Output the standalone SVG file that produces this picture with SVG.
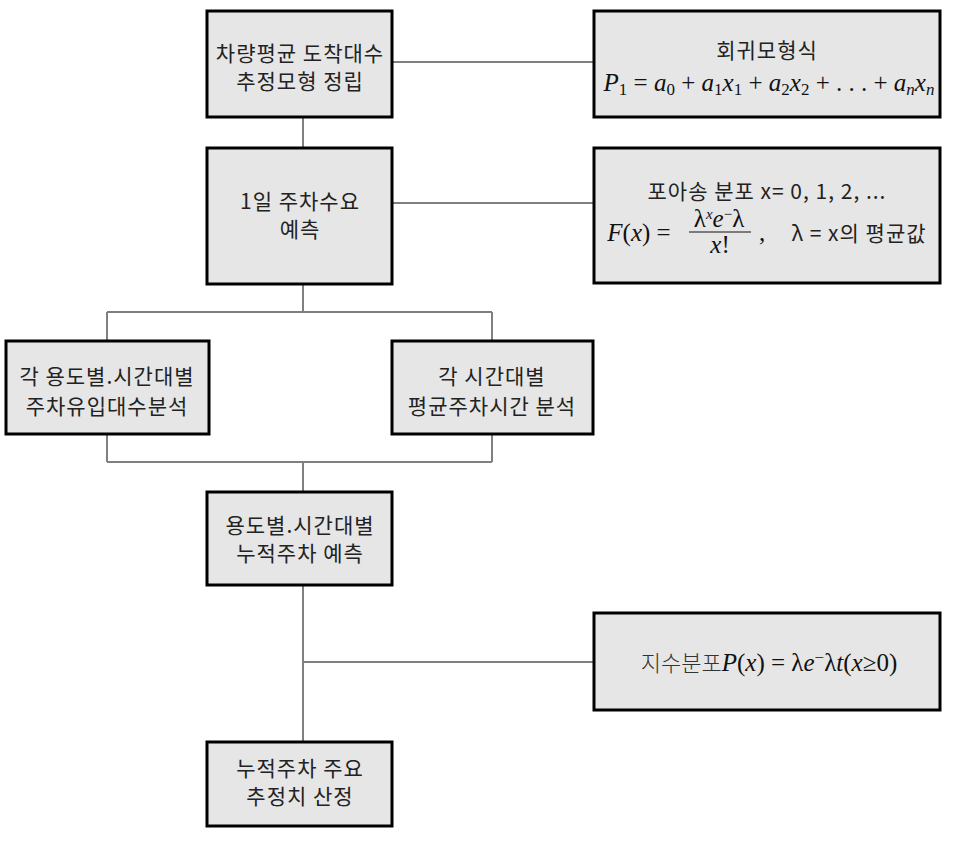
<svg xmlns="http://www.w3.org/2000/svg" width="954" height="850" viewBox="0 0 954 850">
<style>
.box{fill:#e6e6e6;stroke:#000;stroke-width:3}
.kr{font-family:"Noto Sans CJK KR","Noto Sans",sans-serif;font-size:21px;letter-spacing:1px;fill:#222;text-anchor:middle}
.m{font-family:"Liberation Serif",serif;font-size:25px;fill:#111;text-anchor:middle}
.i{font-style:italic}
.v{stroke:#808080;stroke-width:2;fill:none}
.h{stroke:#000;stroke-width:1.2;fill:none}
</style>
<rect width="954" height="850" fill="#fff"/>
<g id="connectors">
<line class="h" x1="392" y1="62" x2="594" y2="62"/>
<line class="h" x1="392" y1="203" x2="594" y2="203"/>
<line class="h" x1="107" y1="312" x2="492" y2="312"/>
<line class="h" x1="107" y1="462" x2="492" y2="462"/>
<line class="h" x1="303" y1="662" x2="594" y2="662"/>
<line class="v" x1="303" y1="118" x2="303" y2="147"/>
<line class="v" x1="303" y1="285" x2="303" y2="312"/>
<line class="v" x1="107" y1="312" x2="107" y2="340"/>
<line class="v" x1="492" y1="312" x2="492" y2="340"/>
<line class="v" x1="107" y1="435" x2="107" y2="462"/>
<line class="v" x1="492" y1="435" x2="492" y2="462"/>
<line class="v" x1="303" y1="462" x2="303" y2="491"/>
<line class="v" x1="303" y1="586" x2="303" y2="741"/>
</g>
<g id="n1">
<rect class="box" x="207" y="11" width="185" height="106"/>
<text class="kr" x="300" y="61">차량평균 도착대수</text>
<text class="kr" x="300" y="89">추정모형 정립</text>
</g>
<g id="r1">
<rect class="box" x="594" y="11" width="346" height="106"/>
<text class="kr" x="767" y="58">회귀모형식</text>
<text class="m" x="769" y="91"><tspan class="i">P</tspan><tspan font-size="17" dy="4">1</tspan><tspan dy="-4"> = </tspan><tspan class="i">a</tspan><tspan font-size="17" dy="4">0</tspan><tspan dy="-4"> + </tspan><tspan class="i">a</tspan><tspan font-size="17" dy="4">1</tspan><tspan class="i" dy="-4">x</tspan><tspan font-size="17" dy="4">1</tspan><tspan dy="-4"> + </tspan><tspan class="i">a</tspan><tspan font-size="17" dy="4">2</tspan><tspan class="i" dy="-4">x</tspan><tspan font-size="17" dy="4">2</tspan><tspan dy="-4"> + . . . + </tspan><tspan class="i">a</tspan><tspan class="i" font-size="17" dy="4">n</tspan><tspan class="i" dy="-4">x</tspan><tspan class="i" font-size="17" dy="4">n</tspan></text>
</g>
<g id="n2">
<rect class="box" x="207" y="148" width="185" height="136"/>
<text class="kr" x="300" y="209">1일 주차수요</text>
<text class="kr" x="300" y="237">예측</text>
</g>
<g id="r2">
<rect class="box" x="594" y="148" width="346" height="135"/>
<text class="kr" x="767" y="199">포아송 분포 x= 0, 1, 2, ...</text>
<text class="m" x="639" y="241" font-size="26"><tspan class="i">F</tspan>(<tspan class="i">x</tspan>) =</text>
<text class="m" x="719" y="227" font-size="22">λ<tspan class="i" font-size="15" dy="-8">x</tspan><tspan class="i" dy="8">e</tspan><tspan font-size="15" dy="-8">−</tspan><tspan dy="8">λ</tspan></text>
<line x1="689" y1="232" x2="751" y2="232" stroke="#111" stroke-width="1"/>
<text class="m" x="720" y="253" font-size="22"><tspan class="i">x</tspan>!</text>
<text class="m" x="762" y="241" font-size="20">,</text>
<text class="kr" x="859" y="241" font-size="22px">λ = x의 평균값</text>
</g>
<g id="n3">
<rect class="box" x="6" y="341" width="203" height="93"/>
<text class="kr" x="107" y="384">각 용도별.시간대별</text>
<text class="kr" x="107" y="414">주차유입대수분석</text>
</g>
<g id="n4">
<rect class="box" x="392" y="341" width="201" height="93"/>
<text class="kr" x="492" y="384">각 시간대별</text>
<text class="kr" x="492" y="414">평균주차시간 분석</text>
</g>
<g id="n5">
<rect class="box" x="207" y="492" width="185" height="93"/>
<text class="kr" x="300" y="533">용도별.시간대별</text>
<text class="kr" x="300" y="561">누적주차 예측</text>
</g>
<g id="r3">
<rect class="box" x="594" y="613" width="346" height="97"/>
<text class="m" x="769" y="671" font-size="26"><tspan font-family="Noto Sans CJK KR,sans-serif" font-size="22" fill="#333" font-weight="300">지수분포</tspan><tspan class="i">P</tspan>(<tspan class="i">x</tspan>) = λ<tspan class="i">e</tspan><tspan font-size="17" dy="-8">−</tspan><tspan dy="8">λ</tspan><tspan class="i">t</tspan>(<tspan class="i">x</tspan>≥0)</text>
</g>
<g id="n6">
<rect class="box" x="207" y="742" width="185" height="84"/>
<text class="kr" x="300" y="776">누적주차 주요</text>
<text class="kr" x="300" y="804">추정치 산정</text>
</g>
</svg>
